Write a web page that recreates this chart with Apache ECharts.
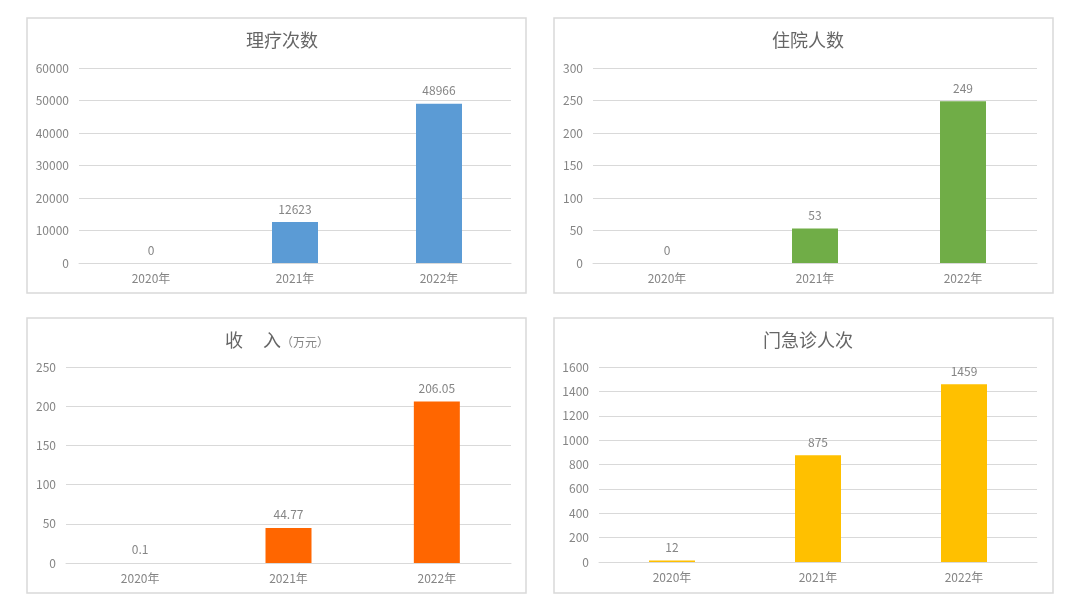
<!DOCTYPE html>
<html>
<head>
<meta charset="utf-8">
<style>
  html, body { margin: 0; padding: 0; background: #fff; }
  #chart { width: 1080px; height: 611px; }
</style>
<script src="https://cdn.jsdelivr.net/npm/echarts@6/dist/echarts.min.js"></script>
</head>
<body>
<div id="chart"></div>
<script>
const years = ['2020年', '2021年', '2022年'];

const therapyCounts = [0, 12623, 48966];
const inpatientCounts = [0, 53, 249];
const incomeWan = [0.1, 44.77, 206.05];
const outpatientCounts = [12, 875, 1459];

const panelTitles = ['理疗次数', '住院人数', '收入', '门急诊人次'];
const seriesColors = ['#5B9BD5', '#70AD47', '#FF6600', '#FFC000'];
const axisMax = [60000, 300, 250, 1600];
const axisStep = [10000, 50, 50, 200];

const font = '"Noto Sans CJK SC", "Noto Sans", sans-serif';
const textGray = '#858585';
const titleGray = '#666666';
const lineGray = '#d9d9d9';

// panel boxes and plot areas, in page pixels
const panels = [
    { box: [27, 18, 499, 275], grid: { left: 79, right: 569, top: 68, bottom: 348 }, titleX: 277, titleY: 26 },
    { box: [554, 18, 499, 275], grid: { left: 593, right: 43, top: 68, bottom: 348 }, titleX: 803, titleY: 26 },
    { box: [27, 318, 499, 275], grid: { left: 66, right: 569, top: 367, bottom: 48 }, titleX: 272, titleY: 326 },
    { box: [554, 318, 499, 275], grid: { left: 599, right: 43, top: 367, bottom: 49 }, titleX: 803, titleY: 326 },
];

const dataSets = [therapyCounts, inpatientCounts, incomeWan, outpatientCounts];

const chart = echarts.init(document.getElementById('chart'));

const titles = panels.map((p, i) => {
    const t = {
        left: p.titleX,
        top: p.titleY,
        textAlign: 'center',
        textStyle: { fontFamily: font, fontSize: 18, fontWeight: 'normal', color: titleGray },
    };
    if (i === 2) {
        t.text = '{main|收     入}{unit|（万元）}';
        t.textStyle.rich = {
            main: { fontFamily: font, fontSize: 18, color: titleGray },
            unit: { fontFamily: font, fontSize: 12, color: textGray, padding: [4, 0, 0, 0] },
        };
    } else {
        t.text = panelTitles[i];
    }
    return t;
});

const option = {
    backgroundColor: '#fff',
    animation: false,
    title: titles,
    graphic: panels.map((p) => ({
        type: 'rect',
        shape: { x: p.box[0], y: p.box[1], width: p.box[2], height: p.box[3] },
        style: { fill: 'none', stroke: lineGray, lineWidth: 1.5 },
        silent: true,
    })),
    grid: panels.map((p) => Object.assign({ containLabel: false }, p.grid)),
    xAxis: panels.map((p, i) => ({
        type: 'category',
        gridIndex: i,
        data: years,
        axisTick: { show: false },
        axisLine: { lineStyle: { color: lineGray, width: 1 } },
        axisLabel: { fontFamily: font, fontSize: 12, color: textGray, margin: 9 },
    })),
    yAxis: panels.map((p, i) => ({
        type: 'value',
        gridIndex: i,
        min: 0,
        max: axisMax[i],
        interval: axisStep[i],
        axisLine: { show: false },
        axisTick: { show: false },
        splitLine: { lineStyle: { color: lineGray, width: 1 } },
        axisLabel: {
            fontFamily: font,
            fontSize: 12,
            color: textGray,
            margin: 10,
            formatter: (v) => String(v),
        },
    })),
    series: dataSets.map((values, i) => ({
        type: 'bar',
        xAxisIndex: i,
        yAxisIndex: i,
        data: values,
        barWidth: 46,
        itemStyle: { color: seriesColors[i] },
        label: {
            show: true,
            position: 'top',
            distance: 7,
            fontFamily: font,
            fontSize: 12,
            color: textGray,
        },
    })),
};

chart.setOption(option);
</script>
</body>
</html>
